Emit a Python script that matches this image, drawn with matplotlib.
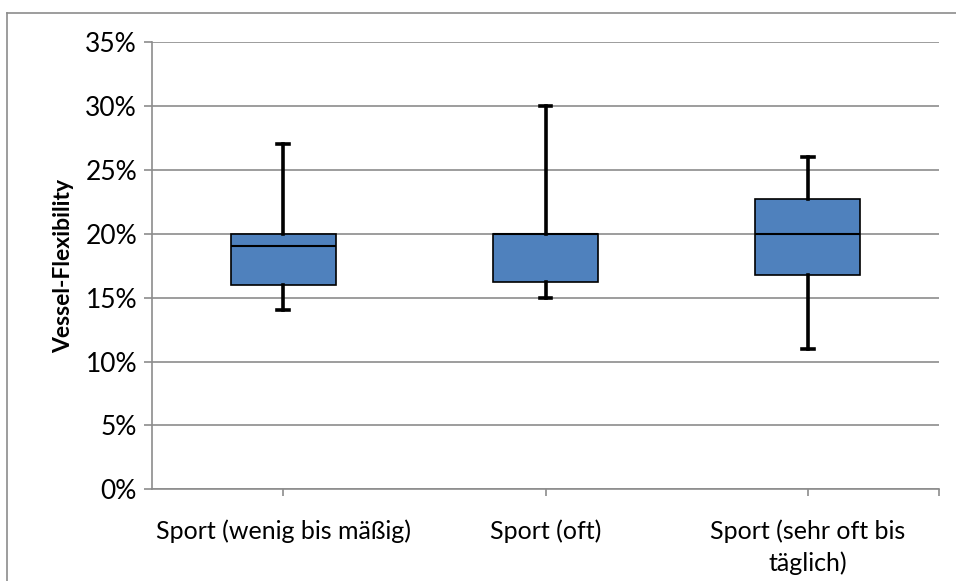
import matplotlib
matplotlib.use("Agg")
import matplotlib.pyplot as plt
from matplotlib.lines import Line2D
from matplotlib.ticker import PercentFormatter

# box statistics (fractions)
categories = ["Sport (wenig bis mäßig)", "Sport (oft)", "Sport (sehr oft bis\ntäglich)"]
whisker_low = [0.14, 0.15, 0.11]
q1 = [0.16, 0.1625, 0.1675]
median = [0.19, 0.20, 0.20]
q3 = [0.20, 0.20, 0.2275]
whisker_high = [0.27, 0.30, 0.26]

plt.rcParams['font.family'] = ['Lato', 'DejaVu Sans']

fig = plt.figure(figsize=(9.56, 5.81), dpi=100)
ax = fig.add_axes([152.3 / 956, 1 - 489.3 / 581, (938.7 - 152.3) / 956, (489.3 - 42) / 581])

stats = []
for i, name in enumerate(categories):
    stats.append(dict(label=name, whislo=whisker_low[i], q1=q1[i], med=median[i],
                      q3=q3[i], whishi=whisker_high[i], fliers=[]))

ax.bxp(stats, positions=range(len(categories)), widths=0.40, capwidths=0.045,
       patch_artist=True, showfliers=False, zorder=3,
       boxprops=dict(facecolor='#4F81BD', edgecolor='black', linewidth=1.2),
       medianprops=dict(color='black', linewidth=1.5),
       whiskerprops=dict(color='black', linewidth=2.6),
       capprops=dict(color='black', linewidth=2.6))

ax.set_xlim(-0.5, 2.5)
ax.set_ylim(0, 0.35)
ax.set_yticks([i * 0.05 for i in range(8)])
ax.yaxis.set_major_formatter(PercentFormatter(1.0, decimals=0))
ax.set_xticks(range(len(categories)))
ax.set_xticklabels(categories, fontsize=18, linespacing=1.4)
ax.set_xticks([2.5], minor=True)

ax.grid(axis='y', color='#8c8c8c', linewidth=1.2, zorder=0)
ax.set_axisbelow(True)
for side in ['top', 'right']:
    ax.spines[side].set_visible(False)
for side in ['left', 'bottom']:
    ax.spines[side].set_color('#8c8c8c')
    ax.spines[side].set_linewidth(1.2)

ax.tick_params(axis='y', length=6, width=1.2, color='#8c8c8c', labelsize=19, pad=5)
ax.tick_params(axis='x', which='both', length=5, width=1.2, color='#8c8c8c', pad=17)
ax.set_ylabel('Vessel-Flexibility', fontsize=16.5, fontweight='bold', labelpad=8)

# chart frame
fx = 7 / 956
fy = 1 - 13 / 581
fig.add_artist(Line2D([fx, fx], [0, fy], color='#8c8c8c', linewidth=1.2))
fig.add_artist(Line2D([fx, 1], [fy, fy], color='#8c8c8c', linewidth=1.2))

fig.savefig('out.png', dpi=100)
